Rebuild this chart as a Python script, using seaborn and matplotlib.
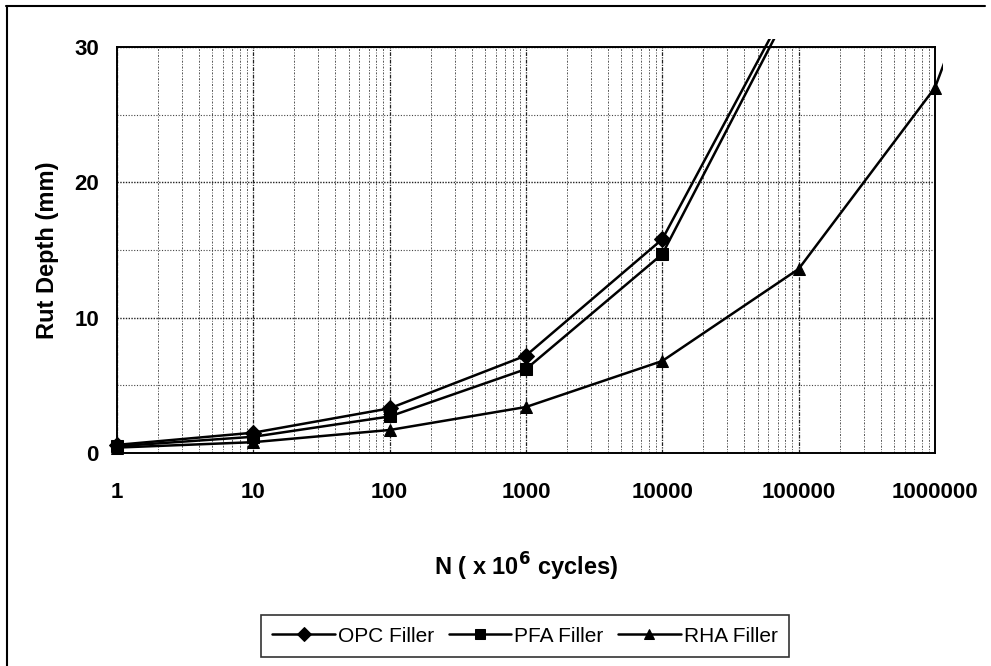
import matplotlib
matplotlib.use("Agg")
import matplotlib.pyplot as plt
import matplotlib.ticker as mticker
from matplotlib.lines import Line2D
from matplotlib.transforms import Bbox, TransformedBbox
import numpy as np
import pandas as pd
import seaborn as sns

# ---- data ----
cycles_opc = [1, 10, 100, 1000, 10000, 100000]
opc_depth = [0.6, 1.5, 3.3, 7.2, 15.8, 34.6]
cycles_pfa = [1, 10, 100, 1000, 10000, 100000]
pfa_depth = [0.5, 1.2, 2.7, 6.2, 14.7, 34.1]
cycles_rha = [1, 10, 100, 1000, 10000, 100000, 1000000, 10000000]
rha_depth = [0.4, 0.8, 1.7, 3.4, 6.8, 13.6, 27.0, 54.0]
series_names = ["OPC Filler", "PFA Filler", "RHA Filler"]
x_ticks = [1, 10, 100, 1000, 10000, 100000, 1000000]
y_ticks = [0, 10, 20, 30]

df = pd.concat([
    pd.DataFrame({"N": cycles_opc, "depth": opc_depth, "series": series_names[0]}),
    pd.DataFrame({"N": cycles_pfa, "depth": pfa_depth, "series": series_names[1]}),
    pd.DataFrame({"N": cycles_rha, "depth": rha_depth, "series": series_names[2]}),
], ignore_index=True)

sns.set_style("white")
plt.rcParams["font.family"] = ["Liberation Sans", "DejaVu Sans"]
plt.rcParams["text.color"] = "black"
plt.rcParams["axes.labelcolor"] = "black"
plt.rcParams["xtick.color"] = "black"
plt.rcParams["ytick.color"] = "black"

fig = plt.figure(figsize=(9.91, 6.66), dpi=100)
ax = fig.add_axes([117/991, 1-453/666, (935-117)/991, (453-47)/666])

sns.lineplot(data=df, x="N", y="depth", hue="series", style="series",
             markers={"OPC Filler": "D", "PFA Filler": "s", "RHA Filler": "^"},
             dashes=False, palette={n: "black" for n in series_names},
             markersize=8, linewidth=1.8, markeredgecolor="black",
             sort=False, ax=ax, legend=True)

ax.set_xscale("log")
ax.set_xlim(1, 1000000)
ax.set_ylim(0, 30)

# let the lines poke slightly past the plot frame, as in the reference
clip = TransformedBbox(Bbox([[-0.02, -0.03], [1.01, 1.02]]), ax.transAxes)
for ln in ax.get_lines():
    ln.set_clip_box(clip)

ax.xaxis.set_major_locator(mticker.FixedLocator(x_ticks))
ax.xaxis.set_major_formatter(mticker.FixedFormatter([str(v) for v in x_ticks]))
ax.xaxis.set_minor_locator(mticker.LogLocator(base=10, subs=np.arange(2, 10)))
ax.xaxis.set_minor_formatter(mticker.NullFormatter())
ax.set_yticks(y_ticks)
ax.yaxis.set_minor_locator(mticker.FixedLocator([5, 15, 25]))

ax.grid(True, which="major", axis="y", color="#222222", linestyle=(0, (1, 1)), linewidth=1.0)
ax.grid(True, which="minor", axis="y", color="#444444", linestyle=(0, (1, 1.5)), linewidth=0.8)
ax.grid(True, which="major", axis="x", color="#222222", linestyle=(0, (3, 1, 1, 1)), linewidth=0.9)
ax.grid(True, which="minor", axis="x", color="#555555", linestyle=(0, (2, 1.5, 1, 1.5)), linewidth=0.7)

for s in ax.spines.values():
    s.set_visible(True)
    s.set_color("black")
    s.set_linewidth(1.4)

ax.tick_params(axis="both", which="major", direction="out", length=5, width=1.2,
               labelsize=16, colors="black")
ax.tick_params(axis="x", which="major", pad=16)
ax.tick_params(axis="y", which="major", pad=8)
ax.tick_params(axis="x", which="minor", length=0)
ax.tick_params(axis="y", which="minor", length=0)
for lab in ax.get_xticklabels() + ax.get_yticklabels():
    lab.set_fontweight("bold")

ax.set_xlabel("N ( x 10$^{\\mathbf{6}}$ cycles)", fontsize=17, fontweight="bold", labelpad=34)
ax.set_ylabel("Rut Depth (mm)", fontsize=17, fontweight="bold", labelpad=11)

handles, labels = ax.get_legend_handles_labels()
ax.legend_.remove()
for h in handles:
    h.set_markersize(7)
leg = fig.legend(handles, labels, loc="center", bbox_to_anchor=(525/991, 1-636/666),
                 ncol=3, frameon=True, fontsize=15, handlelength=3.0,
                 handletextpad=0.15, columnspacing=0.7, borderpad=0.55, fancybox=False)
leg.get_frame().set_edgecolor("black")
leg.get_frame().set_linewidth(1.2)

# outer scan border (top and left edges visible in the reference)
fig.add_artist(Line2D([6/991, 985/991], [1-6/666, 1-6/666], transform=fig.transFigure,
                      color="black", linewidth=1.5))
fig.add_artist(Line2D([7/991, 7/991], [1-6/666, 0], transform=fig.transFigure,
                      color="black", linewidth=1.5))

fig.savefig("out.png", dpi=100)
